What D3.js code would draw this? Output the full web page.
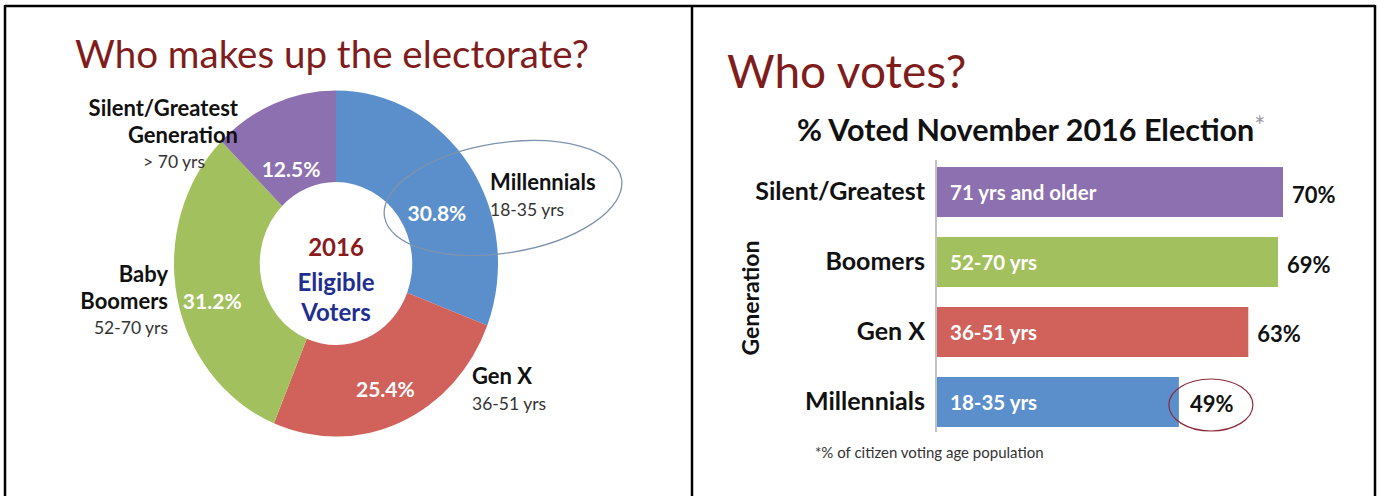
<!DOCTYPE html>
<html>
<head>
<meta charset="utf-8">
<script src="https://cdn.jsdelivr.net/npm/d3@7"></script>
<style>
  body { margin: 0; background: #fff; }
  svg { display: block; font-family: Lato, "Open Sans", sans-serif; }
</style>
</head>
<body>
<div id="chart"></div>
<script>
// donut data (left panel)
const donutGroups = ["Millennials", "Gen X", "Baby Boomers", "Silent/Greatest Generation"];
const donutShares = [30.8, 25.4, 31.2, 12.5];
const donutAges = ["18-35 yrs", "36-51 yrs", "52-70 yrs", "> 70 yrs"];

// bar data (right panel)
const barGroups = ["Silent/Greatest", "Boomers", "Gen X", "Millennials"];
const barVoted = [70, 69, 63, 49];
const barAges = ["71 yrs and older", "52-70 yrs", "36-51 yrs", "18-35 yrs"];

const W = 1378, H = 496;
const colors = {
  "Millennials": "#5b8fcc",
  "Gen X": "#d0615b",
  "Baby Boomers": "#a2c15e",
  "Boomers": "#a2c15e",
  "Silent/Greatest Generation": "#8d70b0",
  "Silent/Greatest": "#8d70b0"
};

const svg = d3.select("#chart")
  .append("svg")
    .attr("width", W)
    .attr("height", H);

svg.append("rect").attr("width", W).attr("height", H).attr("fill", "#fff");

// frame
const frame = svg.append("g").attr("stroke", "#000").attr("stroke-width", 2.5);
frame.append("line").attr("x1", 5).attr("x2", 1375).attr("y1", 6).attr("y2", 6);
frame.append("line").attr("x1", 5).attr("x2", 5).attr("y1", 5).attr("y2", H);
frame.append("line").attr("x1", 692).attr("x2", 692).attr("y1", 5).attr("y2", H);
frame.append("line").attr("x1", 1375).attr("x2", 1375).attr("y1", 5).attr("y2", H);

// ---------- left: donut ----------
svg.append("text")
  .attr("x", 75).attr("y", 68)
  .attr("fill", "#7f1d1d")
  .style("font-size", "38.5px")
  .text("Who makes up the electorate?");

// the pie in the picture is a touch taller than wide
const cx = 336, cy = 263.5, rOut = 170, rIn = 80, sx = 0.953, sy = 1.018;
const donut = svg.append("g").attr("transform", `translate(${cx},${cy})`);

const pie = d3.pie().sort(null).value(d => d.share);
const arc = d3.arc().innerRadius(rIn).outerRadius(rOut);
const midArc = d3.arc().innerRadius(126).outerRadius(126);
// small label nudges, same order as donutGroups
const nudge = [[2, 22], [2, 7], [-6, 12], [1, 23]];

const slices = pie(donutGroups.map((g, i) => ({ name: g, share: donutShares[i], age: donutAges[i] })));

donut.append("g")
  .attr("transform", `scale(${sx},${sy})`)
  .selectAll("path")
  .data(slices)
  .enter()
  .append("path")
    .attr("d", arc)
    .attr("fill", d => colors[d.data.name]);

donut.selectAll("text.pct")
  .data(slices)
  .enter()
  .append("text")
    .attr("class", "pct")
    .attr("transform", (d, i) => {
      const c = midArc.centroid(d);
      return `translate(${c[0] * sx + nudge[i][0]},${c[1] * sy + nudge[i][1]})`;
    })
    .attr("text-anchor", "middle")
    .attr("dominant-baseline", "central")
    .attr("fill", "#fff")
    .style("font-size", "21px")
    .style("font-weight", "bold")
    .text(d => d.data.share.toFixed(1) + "%");

// centre text
const centre = donut.append("g").attr("text-anchor", "middle").style("font-weight", "bold").style("font-size", "24px");
centre.append("text").attr("y", -8).attr("fill", "#8b1a1a").text("2016");
centre.append("text").attr("y", 27).attr("fill", "#1f2f8f").text("Eligible");
centre.append("text").attr("y", 57).attr("fill", "#1f2f8f").text("Voters");

// outside labels
const outside = [
  { lines: ["Millennials"], age: donutAges[0], x: 490, y: 190, anchor: "start", ax: 490 },
  { lines: ["Gen X"], age: donutAges[1], x: 472, y: 384, anchor: "start", ax: 472 },
  { lines: ["Baby", "Boomers"], age: donutAges[2], x: 168, y: 282, anchor: "end", ax: 168 },
  { lines: ["Silent/Greatest", "Generation"], age: donutAges[3], x: 238, y: 116, anchor: "end", ax: 205 }
];
outside.forEach(o => {
  const g = svg.append("g").attr("text-anchor", o.anchor);
  o.lines.forEach((l, i) => {
    g.append("text").attr("x", o.x).attr("y", o.y + i * 27)
      .attr("fill", "#111").style("font-size", "22px").style("font-weight", "bold").text(l);
  });
  g.append("text").attr("x", o.ax).attr("y", o.y + o.lines.length * 26)
    .attr("fill", "#333").style("font-size", "17.5px").text(o.age);
});

// highlight ellipse round Millennials
svg.append("ellipse")
  .attr("cx", 503).attr("cy", 198).attr("rx", 120).attr("ry", 55)
  .attr("transform", "rotate(-9,503,198)")
  .attr("fill", "none")
  .attr("stroke", "#7f93ad")
  .attr("stroke-width", 1.3);

// ---------- right: bars ----------
svg.append("text")
  .attr("x", 727).attr("y", 88)
  .attr("fill", "#7f1d1d")
  .style("font-size", "46px")
  .text("Who votes?");

const sub = svg.append("text")
  .attr("x", 797).attr("y", 141)
  .attr("fill", "#111")
  .style("font-size", "30.5px")
  .style("font-weight", "bold")
  .text("% Voted November 2016 Election");
sub.append("tspan").attr("fill", "#999").attr("dy", -5).style("font-weight", "normal").style("font-size", "26px").text("*");

const x = d3.scaleLinear()
  .domain([0, 70])
  .range([936, 1283]);

const y = d3.scaleBand()
  .domain(barGroups)
  .range([147, 447])
  .padding(0.286);

svg.append("g")
  .attr("transform", "translate(936,0)")
  .call(d3.axisLeft(y).tickSize(0).tickPadding(11))
  .call(g => g.select(".domain").remove())
  .selectAll("text")
    .attr("fill", "#111")
    .style("font-family", "Lato, sans-serif")
    .style("font-size", "25px")
    .style("font-weight", "bold");

svg.append("line")
  .attr("x1", 936).attr("x2", 936)
  .attr("y1", y.range()[0] + 13).attr("y2", y.range()[1] - 15)
  .attr("stroke", "#9a9a9a").attr("stroke-width", 1.2);

const rows = barGroups.map((g, i) => ({ name: g, val: barVoted[i], age: barAges[i] }));

svg.selectAll("rect.bar")
  .data(rows)
  .enter()
  .append("rect")
    .attr("class", "bar")
    .attr("x", x(0) + 1)
    .attr("y", d => y(d.name))
    .attr("width", d => x(d.val) - x(0) - 1)
    .attr("height", y.bandwidth())
    .attr("fill", d => colors[d.name]);

svg.selectAll("text.age")
  .data(rows)
  .enter()
  .append("text")
    .attr("class", "age")
    .attr("x", x(0) + 14)
    .attr("y", d => y(d.name) + y.bandwidth() / 2)
    .attr("dominant-baseline", "central")
    .attr("fill", "#fff")
    .style("font-size", "20.5px")
    .style("font-weight", "bold")
    .text(d => d.age);

svg.selectAll("text.val")
  .data(rows)
  .enter()
  .append("text")
    .attr("class", "val")
    .attr("x", d => x(d.val) + (d.val < 60 ? 11 : 9))
    .attr("y", d => y(d.name) + y.bandwidth() / 2 + 2)
    .attr("dominant-baseline", "central")
    .attr("fill", "#111")
    .style("font-size", "22px")
    .style("font-weight", "bold")
    .text(d => d.val + "%");

// red circle round the millennial figure
const last = rows[rows.length - 1];
svg.append("ellipse")
  .attr("cx", x(last.val) + 32).attr("cy", y(last.name) + y.bandwidth() / 2 + 3)
  .attr("rx", 42).attr("ry", 26)
  .attr("fill", "none")
  .attr("stroke", "#8b2a3a")
  .attr("stroke-width", 1.2);

svg.append("text")
  .attr("transform", "translate(759,298) rotate(-90)")
  .attr("text-anchor", "middle")
  .attr("fill", "#111")
  .style("font-size", "23px")
  .style("font-weight", "bold")
  .text("Generation");

svg.append("text")
  .attr("x", 815).attr("y", 458)
  .attr("fill", "#333")
  .style("font-size", "15px")
  .text("*% of citizen voting age population");
</script>
</body>
</html>
